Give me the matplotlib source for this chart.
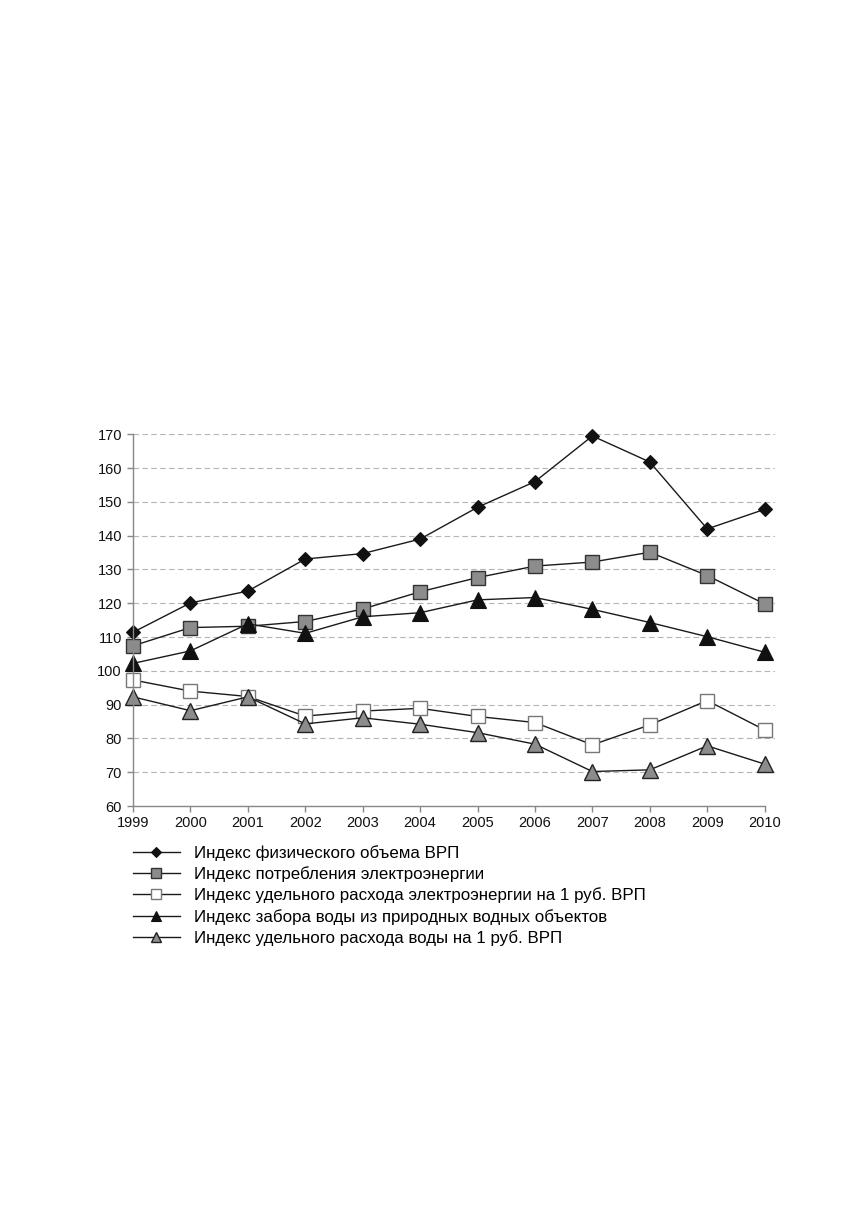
import matplotlib
matplotlib.use("Agg")
import matplotlib.pyplot as plt

years = [1999, 2000, 2001, 2002, 2003, 2004, 2005, 2006, 2007, 2008, 2009, 2010]
grp_index = [111.4, 120.1, 123.6, 133.1, 134.7, 139.0, 148.4, 156.0, 169.5, 161.8, 142.0, 147.8]
elec_index = [107.4, 112.8, 113.2, 114.6, 118.3, 123.4, 127.6, 131.0, 132.2, 135.1, 128.2, 119.8]
elec_per_rub = [97.3, 94.0, 92.4, 86.6, 88.1, 88.9, 86.5, 84.7, 78.1, 84.0, 91.2, 82.5]
water_intake = [102.2, 105.9, 113.9, 111.1, 116.0, 117.2, 121.0, 121.7, 118.2, 114.3, 110.1, 105.5]
water_per_rub = [92.3, 88.2, 92.3, 84.3, 86.1, 84.2, 81.7, 78.3, 70.2, 70.7, 77.8, 72.4]

labels = [
    "Индекс физического объема ВРП",
    "Индекс потребления электроэнергии",
    "Индекс удельного расхода электроэнергии на 1 руб. ВРП",
    "Индекс забора воды из природных водных объектов",
    "Индекс удельного расхода воды на 1 руб. ВРП",
]
yticks = [60, 70, 80, 90, 100, 110, 120, 130, 140, 150, 160, 170]

plt.rcParams['font.family'] = ['Liberation Sans', 'DejaVu Sans']

fig = plt.figure(figsize=(8.56, 12.27), dpi=100)
ax = fig.add_axes([133/856, 1 - 806/1227, (775 - 133)/856, (806 - 434.3)/1227])

lc = '#1a1a1a'
gray = '#8c8c8c'
styles = [
    dict(marker='D', ms=7.5, mfc='#111111', mec='#111111', mew=0.8),
    dict(marker='s', ms=10.5, mfc=gray, mec='#333333', mew=1.0),
    dict(marker='s', ms=10.5, mfc='white', mec='#777777', mew=1.0),
    dict(marker='^', ms=11, mfc='#111111', mec='#111111', mew=0.8),
    dict(marker='^', ms=11, mfc=gray, mec='#222222', mew=1.0),
]
series = [grp_index, elec_index, elec_per_rub, water_intake, water_per_rub]
for s, st, lab in zip(series, styles, labels):
    ax.plot(years, s, color=lc, lw=1.0, label=lab, clip_on=False, **st)

ax.set_ylim(60, 170)
ax.set_xlim(1999, 2010.18)
ax.set_yticks(yticks)
ax.set_xticks(years)
ax.set_xticklabels([str(y) for y in years])
ax.grid(axis='y', color='#b5b5b5', ls=(0, (5, 3)), lw=0.8)
ax.set_axisbelow(True)
for sp in ['top', 'right']:
    ax.spines[sp].set_visible(False)
for sp in ['left', 'bottom']:
    ax.spines[sp].set_color('#888888')
    ax.spines[sp].set_linewidth(1.0)
ax.spines['bottom'].set_bounds(1999, 2010)
ax.tick_params(axis='both', colors='#888888', labelcolor='#111111', labelsize=10.5, length=4, width=1.0)
ax.tick_params(axis='y', pad=4)
ax.tick_params(axis='x', pad=3)

fig.legend(loc='upper left', bbox_to_anchor=(133/856, 1 - 845/1227), frameon=False,
           fontsize=12.2, handlelength=2.75, handletextpad=0.85, labelspacing=0.32,
           markerscale=0.7, borderpad=0, borderaxespad=0)

fig.savefig("out.png", dpi=100)
